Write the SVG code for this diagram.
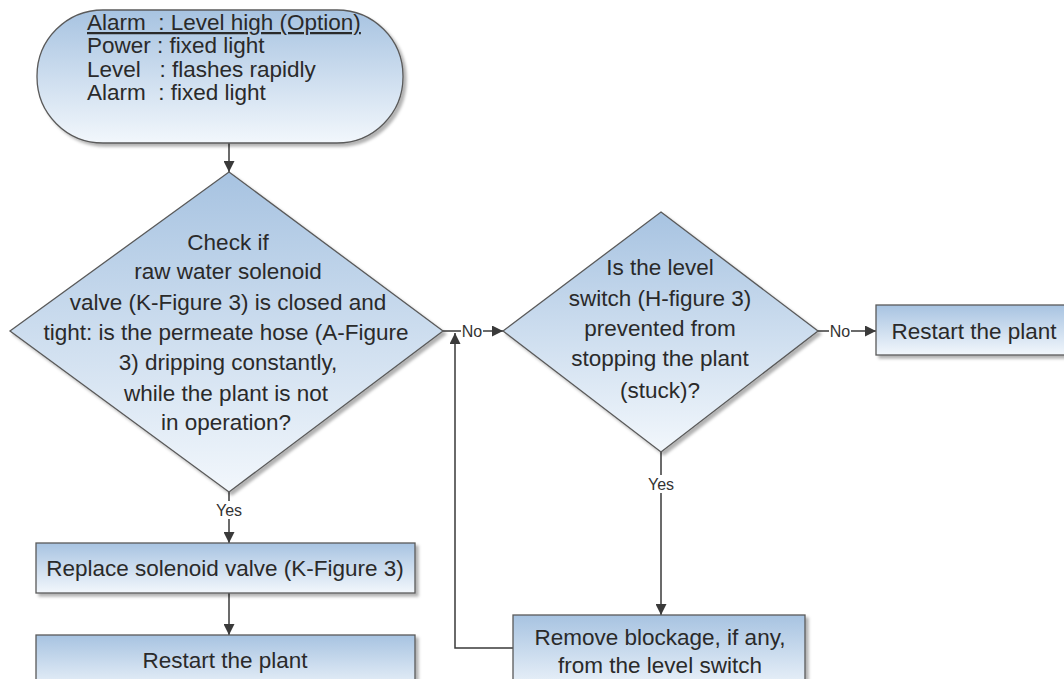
<svg xmlns="http://www.w3.org/2000/svg" width="1064" height="679" viewBox="0 0 1064 679">
<defs>
<linearGradient id="g" x1="0" y1="0" x2="0" y2="1">
<stop offset="0" stop-color="#a7c3e1"/>
<stop offset="1" stop-color="#f2f7fc"/>
</linearGradient>
<filter id="sh" x="-10%" y="-10%" width="130%" height="130%">
<feDropShadow dx="3" dy="3" stdDeviation="1.8" flood-color="#000" flood-opacity="0.3"/>
</filter>
<marker id="ah" viewBox="0 0 10 10" refX="10" refY="5" markerWidth="11" markerHeight="11" markerUnits="userSpaceOnUse" orient="auto">
<path d="M0,0 L10,5 L0,10 z" fill="#3a3a3a"/>
</marker>
<style>
.shape{fill:url(#g);stroke:#5a5a5a;stroke-width:1.3;filter:url(#sh)}
.t{font-family:"Liberation Sans",Arial,sans-serif;font-size:22.5px;fill:#2a2a2a}
.c{text-anchor:middle}
.lbl{font-family:"Liberation Sans",Arial,sans-serif;font-size:16px;fill:#333;text-anchor:middle}
.conn{fill:none;stroke:#3a3a3a;stroke-width:1.5}
.bg{fill:#fff}
</style>
</defs>
<rect width="1064" height="679" fill="#fff"/>

<g id="connectors">
<path class="conn" d="M229,143 V172" marker-end="url(#ah)"/>
<path class="conn" d="M229,492 V543" marker-end="url(#ah)"/>
<path class="conn" d="M229,593 V635" marker-end="url(#ah)"/>
<path class="conn" d="M443,331 H503" marker-end="url(#ah)"/>
<path class="conn" d="M661,452 V615" marker-end="url(#ah)"/>
<path class="conn" d="M513,648 H455 V333" marker-end="url(#ah)"/>
<path class="conn" d="M818,331 H876" marker-end="url(#ah)"/>
<g id="labels">
<rect class="bg" x="214" y="501" width="30" height="18"/>
<text class="lbl" x="229" y="516">Yes</text>
<rect class="bg" x="646" y="475" width="30" height="18"/>
<text class="lbl" x="661" y="490">Yes</text>
<rect class="bg" x="461" y="323" width="22" height="16"/>
<text class="lbl" x="472" y="337">No</text>
<rect class="bg" x="829" y="323" width="22" height="16"/>
<text class="lbl" x="840" y="337">No</text>
</g>
</g>

<g id="start">
<rect class="shape" x="37" y="10" width="366" height="133" rx="66" ry="66"/>
<text class="t" xml:space="preserve" x="87" y="30" text-decoration="underline">Alarm  : Level high (Option)</text>
<text class="t" xml:space="preserve" x="87" y="53">Power : fixed light</text>
<text class="t" xml:space="preserve" x="87" y="77">Level   : flashes rapidly</text>
<text class="t" xml:space="preserve" x="87" y="100">Alarm  : fixed light</text>
</g>

<g id="decision1">
<polygon class="shape" points="229,172 443,331 229,492 10,331"/>
<text class="t c" x="228" y="250">Check if</text>
<text class="t c" x="228" y="279">raw water solenoid</text>
<text class="t c" x="228" y="310">valve (K-Figure 3) is closed and</text>
<text class="t c" x="226" y="340">tight: is the permeate hose (A-Figure</text>
<text class="t c" x="228" y="370">3) dripping constantly,</text>
<text class="t c" x="226" y="401">while the plant is not</text>
<text class="t c" x="226" y="430">in operation?</text>
</g>

<g id="replace">
<rect class="shape" x="36" y="543" width="379" height="50"/>
<text class="t c" x="225" y="576">Replace solenoid valve (K-Figure 3)</text>
</g>

<g id="restart1">
<rect class="shape" x="36" y="635" width="379" height="60"/>
<text class="t c" x="225" y="668">Restart the plant</text>
</g>

<g id="decision2">
<polygon class="shape" points="661,212 818,331 661,452 503,331"/>
<text class="t c" x="660" y="275">Is the level</text>
<text class="t c" x="660" y="306">switch (H-figure 3)</text>
<text class="t c" x="660" y="336">prevented from</text>
<text class="t c" x="660" y="366">stopping the plant</text>
<text class="t c" x="660" y="398">(stuck)?</text>
</g>

<g id="remove">
<rect class="shape" x="513" y="615" width="292" height="80"/>
<text class="t c" x="660" y="645">Remove blockage, if any,</text>
<text class="t c" x="660" y="673">from the level switch</text>
</g>

<g id="restart2">
<rect class="shape" x="876" y="305" width="200" height="50"/>
<text class="t c" x="974" y="339">Restart the plant</text>
</g>
</svg>
